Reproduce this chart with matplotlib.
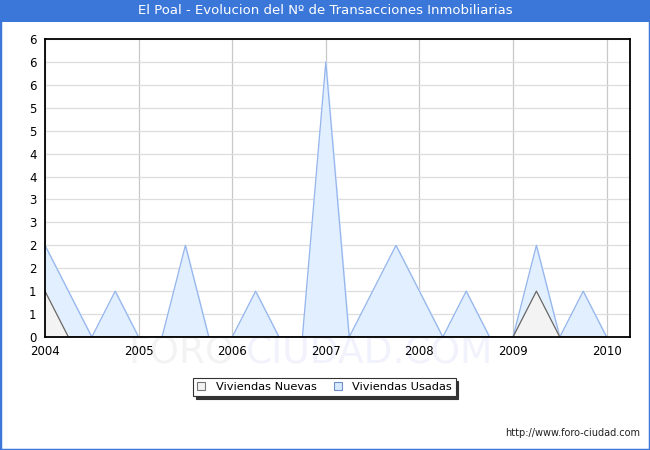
import matplotlib
matplotlib.use("Agg")
import matplotlib.pyplot as plt
from matplotlib.patches import Rectangle

# quarterly periods 2004 Q1 .. 2010 Q1
periods = [2004 + q / 4 for q in range(25)]
usadas = [2, 1, 0, 1, 0, 0, 2, 0, 0, 1, 0, 0, 6, 0, 1, 2, 1, 0, 1, 0, 0, 2, 0, 1, 0]
nuevas = [1, 0, 0, 0, 0, 0, 0, 0, 0, 0, 0, 0, 0, 0, 0, 0, 0, 0, 0, 0, 0, 1, 0, 0, 0]
year_ticks = [2004, 2005, 2006, 2007, 2008, 2009, 2010]
y_ticks = [0, 0.5, 1, 1.5, 2, 2.5, 3, 3.5, 4, 4.5, 5, 5.5, 6, 6.5]
y_labels = ["0", "1", "1", "2", "2", "3", "3", "4", "4", "5", "5", "6", "6", "6"]

W, H = 650, 450
fig = plt.figure(figsize=(6.5, 4.5), dpi=100)
fig.patch.set_facecolor("white")

# title bar and outer border
blue = "#3b77d9"
fig.patches.append(Rectangle((0, 1 - 22 / H), 1, 22 / H, transform=fig.transFigure,
                             facecolor=blue, edgecolor="none", zorder=0))
fig.patches.append(Rectangle((0, 0), 1, 1, transform=fig.transFigure,
                             facecolor="none", edgecolor=blue, linewidth=2.5, zorder=5))
fig.text(0.5, 1 - 11 / H, "El Poal - Evolucion del Nº de Transacciones Inmobiliarias",
         color="white", ha="center", va="center", fontsize=9.5)

# watermark (behind the axes)
fig.text(128 / W, 1 - 354 / H, "FORO-", color="#f3f3f3", fontsize=27,
         ha="left", va="center", zorder=-1)
fig.text(246 / W, 1 - 354 / H, "CIUDAD.COM", color="#f2f2fd", fontsize=27,
         ha="left", va="center", zorder=-1)

ax = fig.add_axes([45 / W, 1 - 337 / H, (630 - 45) / W, (337 - 39) / H])
ax.set_zorder(1)
ax.set_facecolor("none")
ax.set_xlim(2004, 2010.25)
ax.set_ylim(0, 6.5)

ax.fill_between(periods, usadas, color="#e1efff", zorder=2)
ax.plot(periods, usadas, color="#95b5ec", linewidth=0.9, zorder=3)
ax.fill_between(periods, nuevas, color="#f3f3f3", zorder=4)
ax.plot(periods, nuevas, color="#666666", linewidth=0.9, zorder=5)

ax.set_yticks(y_ticks)
ax.set_yticklabels(y_labels)
ax.set_xticks(year_ticks)
ax.set_xticklabels([str(y) for y in year_ticks])
ax.tick_params(length=0, labelsize=8.5, pad=6)
ax.grid(axis="y", color="#dddddd", linewidth=0.9, zorder=1)
ax.grid(axis="x", color="#c8c8c8", linewidth=0.9, zorder=1)
ax.set_axisbelow(True)
for s in ax.spines.values():
    s.set_color("black")
    s.set_linewidth(1.3)
    s.set_zorder(10)

# legend
leg_h = [Rectangle((0, 0), 1, 1, facecolor="#f3f3f3", edgecolor="#777777", linewidth=0.8),
         Rectangle((0, 0), 1, 1, facecolor="#d6e9ff", edgecolor="#6f8fc6", linewidth=0.8)]
leg = fig.legend(leg_h, ["Viviendas Nuevas", "Viviendas Usadas"], loc="center",
                 bbox_to_anchor=(324.5 / W, 1 - 387 / H), ncol=2, fontsize=8.2,
                 frameon=True, fancybox=False, shadow={"color": "#333333", "alpha": 1},
                 handlelength=0.7, handleheight=0.7, handletextpad=0.9,
                 columnspacing=1.5, borderpad=0.35)
leg.get_frame().set_edgecolor("#333333")
leg.get_frame().set_linewidth(0.8)

fig.text(640 / W, 1 - 433 / H, "http://www.foro-ciudad.com", fontsize=7,
         ha="right", va="center", color="#222222")

fig.savefig("out.png", dpi=100)
